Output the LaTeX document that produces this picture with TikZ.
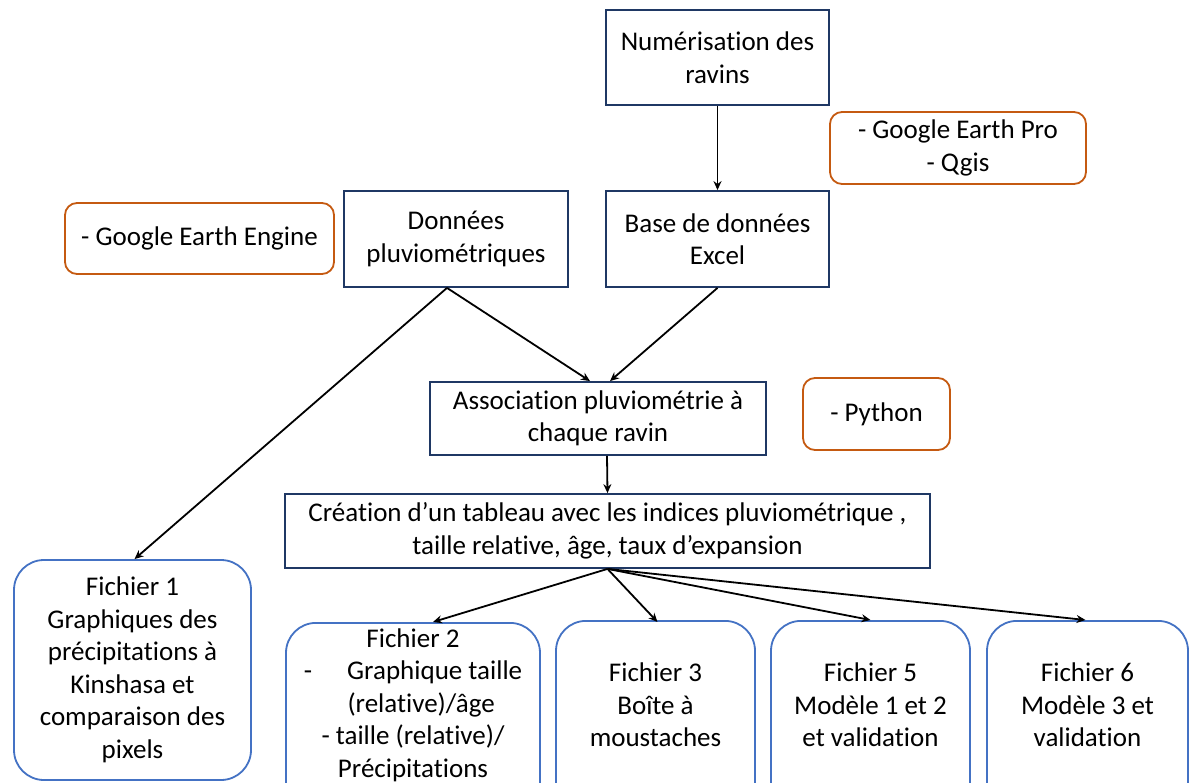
\documentclass[tikz,border=0pt]{standalone}
\usepackage{fontspec}
\setmainfont{Carlito}[Ligatures=NoCommon]
\usetikzlibrary{arrows.meta,positioning}
\definecolor{navy}{HTML}{1F3864}
\definecolor{orng}{HTML}{C55A11}
\definecolor{blu}{HTML}{4472C4}
\tikzset{
  mainbox/.style={draw=navy,line width=1.8pt,align=center,inner sep=0pt},
  toolbox/.style={draw=orng,line width=1.8pt,rounded corners=12pt,align=center,inner sep=0pt},
  filebox/.style={draw=blu,line width=1.8pt,rounded corners=30pt,align=center,inner sep=0pt},
  arr/.style={-{Stealth[length=9pt,width=8pt]},line width=1.8pt,black},
}
\begin{document}
\begin{tikzpicture}[x=1pt,y=-1pt,font=\fontsize{27}{32.5}\selectfont]
\useasboundingbox (0,0) rectangle (1204,783);
\fill[white] (0,0) rectangle (1204,783);
\clip (0,0) rectangle (1204,783);
% main boxes
\node[mainbox,minimum width=223,minimum height=95] (num) at (717.5,57.5) {Numérisation des\\ravins};
\node[mainbox,minimum width=224,minimum height=96] (don) at (456,239) {Données\\pluviométriques};
\node[mainbox,minimum width=223,minimum height=96] (base) at (717.5,239) {Base de données\\Excel};
\node[mainbox,minimum width=336,minimum height=73] (asso) at (598,418.5) {Association pluviométrie à\\chaque ravin};
\node[mainbox,minimum width=645,minimum height=74] (crea) at (607.5,531) {Création d’un tableau avec les indices pluviométrique ,\\taille relative, âge, taux d’expansion};
% tool boxes
\node[toolbox,minimum width=256,minimum height=72] (gep) at (958,148) {- Google Earth Pro\\- Qgis};
\node[toolbox,minimum width=269,minimum height=71] (gee) at (199.5,238.5) {- Google Earth Engine};
\node[toolbox,minimum width=147,minimum height=72] (py) at (876.5,414) {- Python};
% file boxes
\node[filebox,minimum width=237,minimum height=220] (f1) at (132.5,670) {Fichier 1\\Graphiques des\\précipitations à\\Kinshasa et\\comparaison des\\pixels};
\node[filebox,minimum width=254,minimum height=200,anchor=north] (f2) at (413,622) {};
\node[align=center,inner sep=0pt] (f2t) at (413,705) {Fichier 2\\-\hspace{1.3em}Graphique taille\\\hspace{0.6em}(relative)/âge\\- taille (relative)/\\Précipitations};
\node[filebox,minimum width=199,minimum height=200,anchor=north] (f3) at (655.5,620) {};
\node[align=center,inner sep=0pt] (f3t) at (655.5,705) {Fichier 3\\Boîte à\\moustaches};
\node[filebox,minimum width=199,minimum height=200,anchor=north] (f5) at (870.5,620) {};
\node[align=center,inner sep=0pt] (f5t) at (870.5,705) {Fichier 5\\Modèle 1 et 2\\et validation};
\node[filebox,minimum width=201,minimum height=200,anchor=north] (f6) at (1087.5,620) {};
\node[align=center,inner sep=0pt] (f6t) at (1087.5,705) {Fichier 6\\Modèle 3 et\\validation};
% arrows
\draw[arr] (num.south) -- (base.north);
\draw[arr] ([xshift=-9pt]don.south) -- ([xshift=-8pt]asso.north);
\draw[arr] (base.south) -- ([xshift=12pt]asso.north);
\draw[arr] ([xshift=-9pt]don.south) -- ([xshift=2pt]f1.north);
\draw[arr] ([xshift=9pt]asso.south) -- (crea.north);
\draw[arr] (crea.south) -- ([xshift=20pt]f2.north);
\draw[arr] (crea.south) -- ([xshift=2pt,yshift=-2pt]f3.north);
\draw[arr] (crea.south) -- (f5.north);
\draw[arr] (crea.south) -- ([xshift=-2pt]f6.north);
\end{tikzpicture}
\end{document}
